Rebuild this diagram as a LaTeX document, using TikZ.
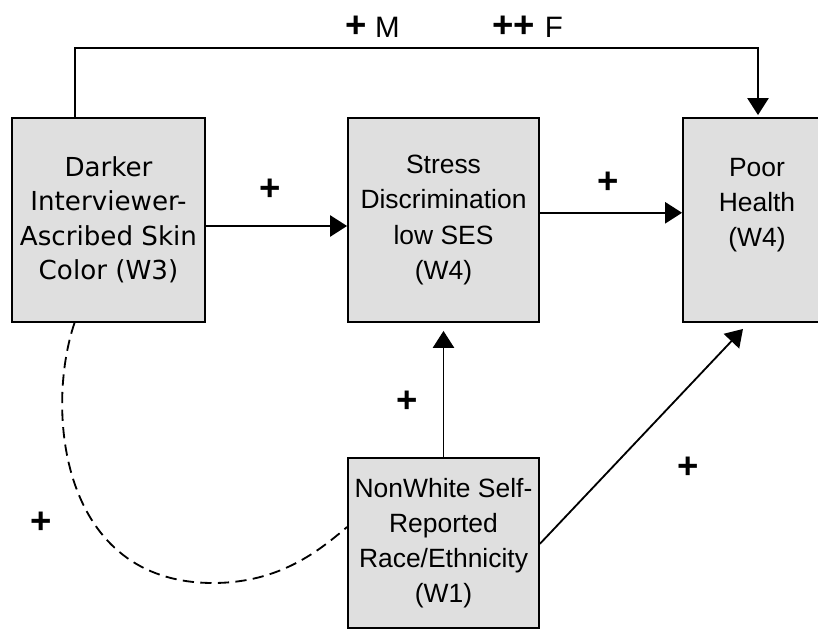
\documentclass[tikz,border=0pt]{standalone}
\usepackage{fontspec}
\setmainfont{Liberation Sans}
\newfontfamily\verafont{DejaVu Sans}
\usetikzlibrary{arrows.meta}

\begin{document}
\begin{tikzpicture}[x=0.025cm,y=-0.025cm,
    box/.style={draw=black,line width=1.3pt,fill=gray!25,minimum height=5.1cm,inner sep=0pt,align=center},
    link/.style={line width=1.3pt,-{Triangle[length=12pt,width=15pt]}},
    sign/.style={font=\fontsize{26}{26}\selectfont\bfseries}]
    \useasboundingbox (0,0) rectangle (818,629);
    \clip (0,0) rectangle (818,629);
    % the four boxes
    \node[box,minimum width=4.825cm,font=\verafont\fontsize{18.6}{24.5}\selectfont] (skin) at (108.5,220) {Darker\\Interviewer-\\Ascribed Skin\\Color (W3)};
    \node[box,minimum width=4.775cm,font=\fontsize{18.8}{25}\selectfont] (stress) at (443.5,220) {Stress\\Discrimination\\low SES\\(W4)};
    \node[box,minimum width=3.7cm,font=\fontsize{18.8}{25}\selectfont] (health) at (757,220) {Poor\\Health\\(W4)\\\mbox{}};
    \node[box,minimum width=4.775cm,minimum height=4.25cm,font=\fontsize{18.8}{25}\selectfont] (race) at (443.5,543) {NonWhite Self-\\Reported\\Race/Ethnicity\\(W1)};
    % direct path over the top
    \coordinate (topL) at (75,48);
    \coordinate (topR) at (758,48);
    \draw[link] (skin.north -| topL) |- (topR) -- ([yshift=0.05cm]health.north -| topR);
    \node[font=\fontsize{21}{21}\selectfont] (male) at (372.5,27) {\textbf{\fontsize{26}{26}\selectfont+}\hspace{6pt}M};
    \node[font=\fontsize{21}{21}\selectfont] (female) at (527.5,27) {\textbf{\fontsize{26}{26}\selectfont++}\hspace{7pt}F};
    % arrows between boxes
    \draw[link] ([yshift=-0.15cm]skin.east) -- ([yshift=-0.15cm]stress.west);
    \draw[link] ([yshift=0.18cm]stress.east) -- ([yshift=0.18cm]health.west);
    \draw[link,shorten >=0.2cm] (race.north) -- (race.north |- stress.south);
    \draw[link] ([yshift=-0.02cm]race.east) -- ([xshift=-0.35cm,yshift=-0.15cm]health.south);
    \draw[line width=1.3pt,dash pattern=on 8pt off 4.5pt] ([xshift=-0.85cm]skin.south) .. controls (45,410) and (60,583) .. (213,583)
        .. controls (280,583) and (320,550) .. ([yshift=0.4cm]race.west);
    % signs
    \foreach \x/\y in {270/190,608/183,407/402,688/468,41/523}{
        \node[sign] at (\x,\y) {+};
    }
\end{tikzpicture}
\end{document}
